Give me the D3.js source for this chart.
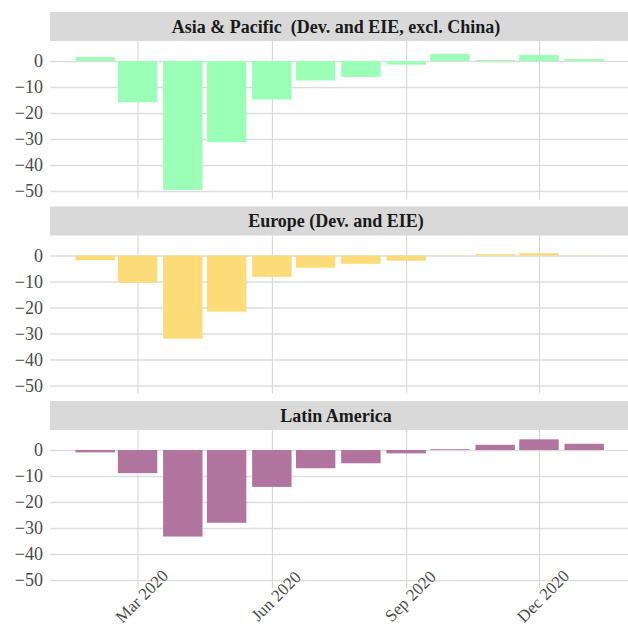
<!DOCTYPE html>
<html>
<head>
  <meta charset="utf-8">
  <title>Monthly change by region</title>
  <script src="https://cdn.jsdelivr.net/npm/d3@7"></script>
</head>
<body style="margin: 0; background: #fff;">
  <script>
    // monthly values, Feb 2020 .. Jan 2021
    const months = ['2020-02-01', '2020-03-01', '2020-04-01', '2020-05-01', '2020-06-01', '2020-07-01',
      '2020-08-01', '2020-09-01', '2020-10-01', '2020-11-01', '2020-12-01', '2021-01-01'];
    const regions = ['Asia & Pacific  (Dev. and EIE, excl. China)', 'Europe (Dev. and EIE)', 'Latin America'];
    const asiaPacific = [1.5, -15.9, -49.6, -31.2, -14.8, -7.5, -6.1, -1.4, 2.7, 0.4, 2.3, 0.8];
    const europe = [-1.8, -10.5, -32.0, -21.6, -8.2, -4.7, -3.2, -2.0, 0.1, 0.5, 0.9, 0.1];
    const latinAmerica = [-0.9, -8.9, -33.3, -28.0, -14.2, -7.0, -5.1, -1.3, 0.3, 2.0, 4.1, 2.4];
    const colors = ['#9bffb8', '#fcdc78', '#b0749f'];
    const xTicks = ['2020-03-01', '2020-06-01', '2020-09-01', '2020-12-01'];
    const yTicks = [0, -10, -20, -30, -40, -50];

    const W = 628;
    const H = 628;
    const series = [asiaPacific, europe, latinAmerica];
    const parse = d3.utcParse('%Y-%m-%d');
    const serif = 'Liberation Serif';

    const left = 50;
    const stripH = 29;
    const panelH = 158;
    const step = 194.5;
    const top0 = 12;

    const svg = d3.select('body').append('svg')
      .attr('width', W)
      .attr('height', H);

    const x = d3.scaleUtc()
      .domain([parse('2020-01-01'), parse('2021-01-31')])
      .range([left, W]);

    const y = d3.scaleLinear()
      .domain([-53.1, 7.7])
      .range([panelH, 0]);

    const bw = (x(parse('2020-03-31')) - x(parse('2020-03-01'))) * 0.9;

    regions.forEach((name, i) => {
      const g = svg.append('g')
        .attr('transform', `translate(0, ${top0 + i * step})`);

      // strip
      g.append('rect')
        .attr('x', left).attr('y', 0)
        .attr('width', W - left).attr('height', stripH)
        .attr('fill', '#d9d9d9');
      g.append('text')
        .attr('x', (left + W) / 2 - 3)
        .attr('y', stripH / 2 + 6)
        .attr('text-anchor', 'middle')
        .attr('font-family', serif)
        .attr('font-size', 18)
        .attr('font-weight', 'bold')
        .attr('fill', '#1a1a1a')
        .style('white-space', 'pre')
        .text(name);

      const p = g.append('g').attr('transform', `translate(0, ${stripH})`);

      // vertical grid
      p.append('g')
        .attr('transform', `translate(0, ${panelH})`)
        .call(d3.axisBottom(x).tickValues(xTicks.map(parse)).tickSize(-panelH).tickFormat(''))
        .call(s => s.select('.domain').remove())
        .call(s => s.selectAll('line').attr('stroke', '#d4d4d4').attr('stroke-width', 1));

      // horizontal grid + labels
      p.append('g')
        .attr('transform', `translate(${left}, 0)`)
        .call(d3.axisLeft(y).tickValues(yTicks).tickSize(-(W - left)).tickPadding(7))
        .attr('font-family', serif)
        .attr('font-size', 18)
        .call(s => s.select('.domain').remove())
        .call(s => s.selectAll('line').attr('stroke', '#dedede').attr('stroke-width', 1.5))
        .call(s => s.selectAll('text')
          .attr('fill', '#4d4d4d')
          .attr('font-family', serif)
          .attr('font-size', 18));

      p.selectAll('.bar').data(series[i]).join('rect')
        .attr('class', 'bar')
        .attr('x', (d, j) => x(parse(months[j])) - bw / 2)
        .attr('width', bw)
        .attr('y', d => y(Math.max(0, d)))
        .attr('height', d => Math.abs(y(d) - y(0)))
        .attr('fill', colors[i]);

      if (i === regions.length - 1) {
        p.append('g').selectAll('text').data(xTicks).join('text')
          .attr('transform', d => `translate(${x(parse(d)) + 4}, ${panelH + 8}) rotate(-45)`)
          .attr('text-anchor', 'middle')
          .attr('dy', '0.35em')
          .attr('fill', '#4d4d4d')
          .attr('font-family', serif)
          .attr('font-size', 17)
          .text(d => d3.utcFormat('%b %Y')(parse(d)));
      }
    });
  </script>
</body>
</html>
